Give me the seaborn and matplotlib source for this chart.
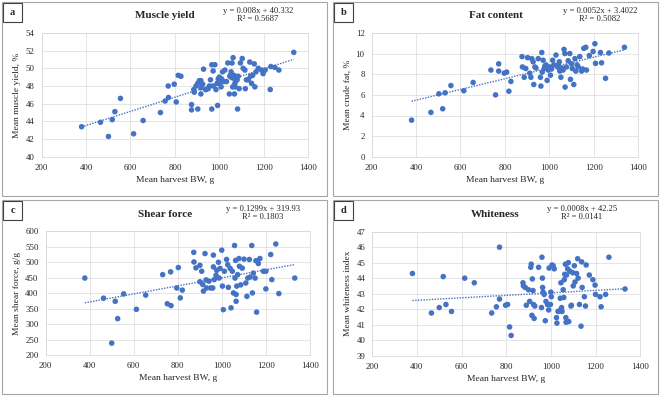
import numpy as np
import pandas as pd
import matplotlib
matplotlib.use("Agg")
import matplotlib.pyplot as plt
from matplotlib.patches import Rectangle
import seaborn as sns

# Panel a - muscle yield
bw_a = [380, 465, 501, 518, 530, 555, 614, 657, 735, 756, 771, 770, 797, 806, 815, 827,
        875, 875, 885, 887, 895, 903, 903, 910, 917, 917, 917, 925, 929, 938, 940, 950,
        955, 960, 966, 966, 972, 972, 980, 985, 990, 992, 995, 1000, 1002, 1008, 1010,
        1015, 1020, 1025, 1032, 1038, 1045, 1047, 1050, 1053, 1057, 1060, 1062, 1062,
        1066, 1068, 1070, 1071, 1074, 1080, 1082, 1085, 1089, 1095, 1103, 1107, 1115,
        1117, 1122, 1130, 1137, 1140, 1145, 1150, 1157, 1160, 1165, 1175, 1190, 1197,
        1206, 1229, 1232, 1250, 1268, 1335]
muscle = [43.4, 43.9, 42.3, 44.2, 45.1, 46.6, 42.6, 44.1, 45.0, 46.3, 46.7, 48.0, 48.2, 46.2, 49.2, 49.1,
          45.9, 45.3, 47.6, 47.3, 48.0, 45.4, 48.3, 48.6, 48.6, 47.1, 47.8, 48.2, 49.9, 47.6, 47.6, 47.7,
          48.0, 48.7, 50.4, 45.4, 49.7, 48.0, 50.4, 47.6, 48.3, 45.8, 48.8, 49.0, 48.3, 47.9, 48.8,
          49.6, 48.5, 49.8, 48.5, 50.6, 47.1, 49.1, 49.2, 49.6, 50.6, 47.9, 51.2, 48.9,
          49.2, 47.1, 48.3, 47.9, 48.6, 48.7, 45.4, 49.1, 47.7, 50.6, 51.1, 50.0, 49.8,
          47.7, 48.7, 48.7, 50.7, 49.1, 48.3, 49.2, 50.5, 47.9, 49.6, 50.0, 49.8, 49.4,
          49.8, 47.6, 50.2, 50.1, 49.8, 51.8]

# Panel b - fat content
bw_b = [380, 467, 503, 520, 531, 557, 615, 657, 737, 758, 772, 772, 797, 808, 818, 827,
        877, 879, 887, 894, 902, 912, 917, 921, 927, 930, 935, 950, 960, 962, 966, 968,
        972, 977, 985, 990, 995, 1002, 1005, 1015, 1020, 1030, 1037, 1045, 1047, 1052,
        1058, 1062, 1066, 1070, 1071, 1077, 1085, 1092, 1095, 1103, 1110, 1115, 1119,
        1125, 1137, 1145, 1155, 1164, 1167, 1180, 1197, 1205, 1208, 1230, 1235, 1253,
        1268, 1338, 940, 980, 1010, 1040, 1055, 1100, 1130, 1150]
fat = [3.55, 4.3, 6.1, 4.65, 6.2, 6.9, 6.4, 7.2, 8.4, 6.0, 9.0, 8.3, 8.1, 8.2, 6.35, 7.3,
       9.7, 8.7, 7.7, 8.55, 9.6, 8.1, 7.7, 9.5, 9.2, 7.0, 8.7, 9.5, 7.7, 6.85, 10.1, 8.2,
       9.35, 8.55, 8.9, 7.4, 8.4, 8.7, 7.9, 9.35, 8.9, 9.85, 8.7, 9.2, 8.3, 7.7,
       8.55, 8.4, 10.4, 10.0, 6.75, 8.7, 9.3, 10.0, 7.5, 8.55, 7.0, 9.5, 8.3,
       8.9, 9.7, 8.3, 10.5, 10.6, 8.4, 9.8, 10.2, 10.95, 9.05, 10.1, 9.1, 7.6,
       10.05, 10.6, 8.6, 8.8, 8.5, 8.9, 8.6, 9.0, 8.7, 8.5]

# Panel c - shear force
bw_c = [378, 463, 516, 527, 554, 500, 612, 654, 731, 752, 767, 769, 795, 802, 811, 820,
        872, 873, 882, 900, 900, 908, 913, 916, 923, 928, 931, 941, 949, 958, 961, 961,
        965, 973, 976, 984, 987, 991, 999, 1002, 1006, 1011, 1021, 1026, 1029, 1037, 1041,
        1047, 1052, 1057, 1059, 1062, 1064, 1064, 1067, 1071, 1077, 1079, 1085, 1092,
        1100, 1108, 1113, 1117, 1124, 1127, 1135, 1138, 1142, 1150, 1154, 1157, 1165,
        1172, 1188, 1199, 1199, 1221, 1226, 1244, 1258, 1330]
shear = [449, 384, 374, 318, 398, 239, 348, 394, 460, 366, 469, 360, 417, 483, 385, 410,
         532, 501, 482, 490, 437, 471, 428, 407, 528, 443, 417, 439, 417, 417, 523, 485,
         444, 458, 474, 500, 449, 480, 539, 423, 347, 471, 509, 492, 419, 480, 353,
         471, 401, 554, 449, 506, 396, 374, 423, 460, 512, 487, 427, 481,
         510, 433, 390, 449, 509, 452, 554, 401, 465, 449, 505, 339, 496,
         512, 471, 471, 414, 525, 444, 559, 399, 449]

# Panel d - whiteness
bw_d = [380, 465, 500, 518, 530, 555, 614, 657, 735, 756, 770, 770, 797, 806, 815, 822,
        875, 877, 885, 890, 900, 905, 910, 912, 915, 917, 920, 922, 925, 928, 945, 958,
        960, 962, 963, 965, 970, 975, 978, 985, 990, 992, 998, 1000, 1002, 1005, 1010,
        1015, 1025, 1027, 1032, 1040, 1042, 1045, 1048, 1050, 1055, 1058, 1060, 1062,
        1065, 1067, 1068, 1070, 1075, 1078, 1080, 1085, 1090, 1092, 1098, 1100, 1105,
        1108, 1115, 1120, 1122, 1128, 1135, 1138, 1140, 1150, 1155, 1158, 1172, 1188,
        1198, 1200, 1220, 1225, 1245, 1260, 1332]
white = [44.3, 41.75, 42.1, 44.1, 42.3, 41.85, 44.0, 43.7, 41.75, 42.15, 46.0, 42.65, 42.25, 42.3, 40.85, 40.3,
         43.7, 43.5, 43.4, 42.25, 43.25, 42.5, 44.7, 44.9, 41.6, 43.95, 43.2, 42.3, 41.4, 42.2, 44.7, 42.1,
         45.35, 44.0, 43.4, 43.1, 42.95, 41.25, 42.5, 42.3, 41.95, 44.65, 42.3, 43.1, 42.8, 44.85, 44.8,
         44.6, 41.45, 41.1, 41.85, 41.9, 42.7, 43.7, 42.1, 41.85, 43.25, 42.75, 43.9, 44.25,
         44.9, 41.45, 41.15, 44.2, 44.6, 45.0, 41.2, 44.45, 42.2, 42.25, 44.35, 43.5, 44.8,
         43.75, 44.3, 45.25, 44.0, 42.3, 40.9, 45.05, 43.4, 42.8, 42.2, 44.85, 44.2, 43.9,
         43.55, 42.95, 42.8, 42.15, 42.95, 45.35, 43.3]

titles = ["Muscle yield", "Fat content", "Shear force", "Whiteness"]
letters = ["a", "b", "c", "d"]
ylabels = ["Mean muscle yield, %", "Mean crude fat, %", "Mean shear force, g/g", "Mean whiteness index"]
slopes = [0.008, 0.0052, 0.1299, 0.0008]
intercepts = [40.332, 3.4022, 319.93, 42.25]
equations = ["y = 0.008x + 40.332\nR² = 0.5687", "y = 0.0052x + 3.4022\nR² = 0.5082",
             "y = 0.1299x + 319.93\nR² = 0.1803", "y = 0.0008x + 42.25\nR² = 0.0141"]
yticks = [np.arange(40, 55, 2), np.arange(0, 13, 2), np.arange(200, 601, 50), np.arange(39, 48, 1)]
xticks = np.arange(200, 1401, 200)

sns.set_theme(style="whitegrid")
plt.rcParams['font.family'] = ['Liberation Serif', 'DejaVu Serif']

blue = "#4472C4"
fig = plt.figure(figsize=(6.6, 3.96), dpi=100)

# axes rectangles [left, bottom, width, height]
rects = [[0.063, 0.604, 0.404, 0.313], [0.563, 0.604, 0.404, 0.313],
         [0.069, 0.103, 0.401, 0.313], [0.564, 0.102, 0.406, 0.313]]
# panel frames in pixel units (x0, y0, w, h) from top-left
frames = [(2, 2, 325, 194), (333, 2, 325, 194), (2, 200, 325, 194), (333, 200, 325, 194)]
title_x = [165, 496, 165, 495]
eq_x = [258, 600, 263, 582]

data = [(bw_a, muscle), (bw_b, fat), (bw_c, shear), (bw_d, white)]

for i in range(4):
    fx, fy, fw, fh = frames[i]
    fig.patches.append(Rectangle((fx / 660, 1 - (fy + fh) / 396), fw / 660, fh / 396,
                                 transform=fig.transFigure, fill=False, ec="#a6a6a6", lw=0.8))
    # letter box
    fig.patches.append(Rectangle(((fx + 1) / 660, 1 - (fy + 20) / 396), 19 / 660, 19 / 396,
                                 transform=fig.transFigure, fill=False, ec="#404040", lw=0.8))
    fig.text((fx + 10.5) / 660, 1 - (fy + 10.5) / 396, letters[i], ha="center", va="center",
             fontsize=7.5, fontweight="bold")
    fig.text(title_x[i] / 660, 1 - (fy + 14) / 396, titles[i], ha="center", va="center",
             fontsize=8, fontweight="bold")
    fig.text(eq_x[i] / 660, 1 - (fy + 13) / 396, equations[i], ha="center", va="center",
             fontsize=6.2, linespacing=1.1)

    ax = fig.add_axes(rects[i])
    x, y = data[i]
    df = pd.DataFrame({"x": x, "y": y})
    sns.scatterplot(data=df, x="x", y="y", ax=ax, color=blue, s=16, edgecolor="none", zorder=3)
    xs = np.array([min(x), max(x)])
    trend = pd.DataFrame({"x": xs, "y": slopes[i] * xs + intercepts[i]})
    sns.lineplot(data=trend, x="x", y="y", ax=ax, color=blue, lw=1.0, linestyle=(0, (1, 1)), zorder=2)

    ax.set_xlim(200, 1400)
    ax.set_xticks(xticks)
    ax.set_ylim(yticks[i][0], yticks[i][-1])
    ax.set_yticks(yticks[i])
    ax.grid(True, color="#e0e0e0", lw=0.6)
    for s in ax.spines.values():
        s.set_color("#d9d9d9")
        s.set_linewidth(0.6)
    ax.tick_params(axis="y", labelsize=6.3, length=0, pad=5, colors="#262626")
    ax.tick_params(axis="x", labelsize=6.3, length=0, pad=5, colors="#262626")
    ax.set_xlabel("Mean harvest BW, g", fontsize=6.8, color="#262626", labelpad=3)
    ax.set_ylabel(ylabels[i], fontsize=6.8, color="#262626", labelpad=3)

fig.savefig("out.png", dpi=100)
